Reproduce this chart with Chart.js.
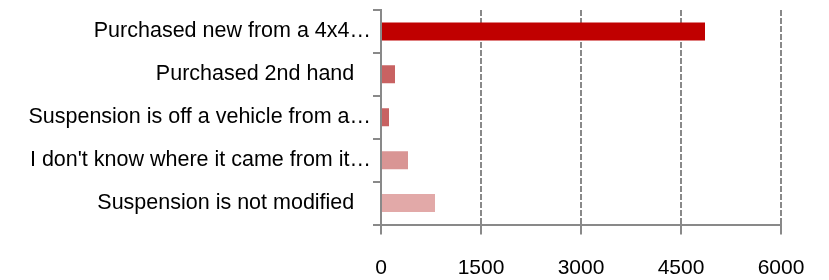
<!DOCTYPE html>
<html><head><meta charset="utf-8">
<script src="https://cdn.jsdelivr.net/npm/chart.js@4/dist/chart.umd.min.js"></script>
<style>html,body{margin:0;padding:0;background:#fff}#wrap{width:829px;height:280px}</style>
</head><body><div id="wrap"><canvas id="c" width="829" height="280"></canvas></div>
<script>
const categories = ["Purchased new from a 4x4…","Purchased 2nd hand","Suspension is off a vehicle from a…","I don't know where it came from it…","Suspension is not modified"];
const values = [4860, 210, 120, 405, 810];
const barColors = ["#C00000","#C86262","#C86262","#D99594","#E2A9A8"];
const xTicks = [0,1500,3000,4500,6000];

const FONT = "'Liberation Sans', Arial, sans-serif";
new Chart(document.getElementById('c'), {
  type: 'bar',
  data: { labels: categories, datasets: [{ data: values, backgroundColor: barColors, borderWidth: 0, barPercentage: 0.84, categoryPercentage: 0.5 }] },
  options: {
    indexAxis: 'y', responsive: false, animation: false, devicePixelRatio: 1,
    layout: { padding: { left: 0, right: 48, top: 10, bottom: 0 } },
    plugins: { legend: { display: false }, tooltip: { enabled: false } },
    scales: {
      x: {
        min: 0, max: 6000,
        afterBuildTicks: s => { s.ticks = xTicks.map(v => ({ value: v })); },
        afterFit: s => { s.height = 55.5; s.paddingLeft = 0; s.paddingRight = 0; },
        border: { display: true, color: '#898989', width: 2 },
        grid: { drawOnChartArea: false, drawTicks: true, tickLength: 10, tickColor: '#898989', tickWidth: 2, color: '#898989', lineWidth: 2 },
        ticks: { color: '#000', font: { family: FONT, size: 21 }, padding: 21, maxRotation: 0, callback: v => String(v) }
      },
      y: {
        afterFit: s => { s.width = 381; s.paddingTop = 0; s.paddingBottom = 0; },
        border: { display: true, color: '#898989', width: 2 },
        grid: { offset: true, drawOnChartArea: false, drawTicks: true, tickLength: 8, color: '#898989', lineWidth: 2 },
        ticks: { color: '#000', font: { family: FONT, size: 21.5 }, padding: 2,
          callback: function (v) { const t = this.getLabelForValue(v); return t.endsWith('…') ? t : t + ' \u2002'; } }
      }
    }
  },
  plugins: [{
    id: 'dashgrid',
    beforeDatasetsDraw(chart) {
      const { ctx, chartArea, scales: { x } } = chart;
      ctx.save();
      ctx.strokeStyle = '#898989'; ctx.lineWidth = 2; ctx.setLineDash([6, 2]);
      xTicks.slice(1).forEach(v => {
        const px = Math.round(x.getPixelForValue(v));
        ctx.beginPath(); ctx.moveTo(px, chartArea.top); ctx.lineTo(px, chartArea.bottom); ctx.stroke();
      });
      ctx.restore();
    }
  }]
});
</script></body></html>
